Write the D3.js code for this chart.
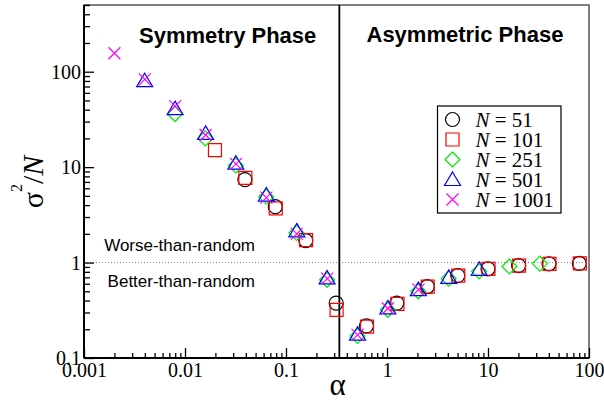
<!DOCTYPE html>
<html>
<head>
<meta charset="utf-8" />
<title>sigma^2/N vs alpha</title>
<style>
body { margin: 0; background: #fff; }
svg { display: block; }
.serif { font-family: "Liberation Serif", "Times New Roman", serif; }
.sans { font-family: "Liberation Sans", Arial, sans-serif; }
</style>
</head>
<body>
<div id="graph"></div>
<script src="https://d3js.org/d3.v7.min.js"></script>
<script>

// values (alpha, sigma^2/N) for each N
var alpha51 = [0.0392, 0.0784, 0.157, 0.314, 0.627, 1.25, 2.51, 5.02, 10.0, 20.1, 40.2, 80.3];
var sig51   = [7.4, 3.85, 1.70, 0.376, 0.217, 0.376, 0.56, 0.73, 0.86, 0.93, 0.97, 0.98];

var alpha101 = [0.0198, 0.0396, 0.0792, 0.158, 0.317, 0.634, 1.27, 2.53, 5.07, 10.1, 20.3, 40.6, 81.1];
var sig101   = [15.1, 7.7, 3.7, 1.72, 0.32, 0.213, 0.37, 0.56, 0.73, 0.86, 0.93, 0.97, 0.98];

var alpha251 = [0.00797, 0.0159, 0.0319, 0.0637, 0.127, 0.255, 0.510, 1.02, 2.04, 4.08, 8.16, 16.3, 32.6];
var sig251   = [36, 20, 10.4, 4.9, 2.05, 0.66, 0.17, 0.32, 0.50, 0.68, 0.81, 0.91, 0.975];

var alpha501 = [0.00399, 0.00798, 0.0160, 0.0319, 0.0639, 0.128, 0.255, 0.511, 1.02, 2.04, 4.09, 8.18];
var sig501   = [80.5, 41, 22.6, 11, 5.1, 2.15, 0.69, 0.178, 0.335, 0.52, 0.70, 0.85];

var alpha1001 = [0.002, 0.004, 0.008, 0.016, 0.032, 0.0639, 0.128, 0.256, 0.511, 1.02, 2.05];
var sig1001   = [156, 83, 43.6, 21.7, 10.8, 4.8, 2.0, 0.68, 0.175, 0.33, 0.52];

var seriesNames  = ["51", "101", "251", "501", "1001"];
var seriesColors = ["#000000", "#ff0000", "#00ee00", "#0000ff", "#ff00ff"];
var seriesShapes = ["circle", "square", "diamond", "triangle", "cross"];

var xMajor = [0.001, 0.01, 0.1, 1, 10, 100];
var xLabels = ["0.001", "0.01", "0.1", "1", "10", "100"];
var yMajor = [0.1, 1, 10, 100];
var yLabels = ["0.1", "1", "10", "100"];
var alphaCrit = 0.3374;

var width = 604, height = 401;
var plotLeft = 84, plotRight = 589, plotTop = 5, plotBottom = 358;

var svg = d3.select("#graph").append("svg")
    .attr("width", width)
    .attr("height", height);

var x = d3.scaleLog().domain([0.001, 100]).range([plotLeft, plotRight]);
var y = d3.scaleLog().domain([0.1, 500]).range([plotBottom, plotTop]);

// minor ticks 2..9 per decade
function minors(lo, hi) {
    var out = [];
    for (var d = lo; d < hi * 0.999; d *= 10)
        for (var k = 2; k <= 9; k++)
            if (d * k <= hi * 1.001) out.push(d * k);
    return out;
}

// frame
svg.append("rect")
    .attr("x", plotLeft).attr("y", plotTop)
    .attr("width", plotRight - plotLeft).attr("height", plotBottom - plotTop)
    .attr("fill", "none")
    .attr("stroke", "#555")
    .attr("stroke-width", 1.5);

// dotted line at 1
svg.append("line")
    .attr("x1", plotLeft).attr("x2", plotRight)
    .attr("y1", y(1)).attr("y2", y(1))
    .attr("stroke", "#888")
    .attr("stroke-width", 1)
    .attr("stroke-dasharray", "1,2");

// critical alpha
svg.append("line")
    .attr("x1", x(alphaCrit)).attr("x2", x(alphaCrit))
    .attr("y1", plotTop).attr("y2", plotBottom)
    .attr("stroke", "#000")
    .attr("stroke-width", 1.8);

// axes
var xAxisMinor = d3.axisBottom(x).tickValues(minors(0.001, 100)).tickSize(-5).tickFormat("");
var xAxis = d3.axisBottom(x).tickValues(xMajor).tickSize(-10)
    .tickFormat(function(d, i) { return xLabels[i]; });
var yAxisMinor = d3.axisLeft(y).tickValues(minors(0.1, 500)).tickSize(-6).tickFormat("");
var yAxis = d3.axisLeft(y).tickValues(yMajor).tickSize(-10)
    .tickFormat(function(d, i) { return yLabels[i]; });

function styleAxis(g) {
    g.attr("font-family", null).attr("font-size", null);
    g.select(".domain").remove();
    g.selectAll(".tick line").attr("stroke", "#000").attr("stroke-width", 1.3);
    g.selectAll("text")
        .attr("class", "serif")
        .style("font-size", "20px")
        .attr("fill", "#000");
}

svg.append("g").attr("transform", "translate(0," + plotBottom + ")").call(xAxisMinor).call(styleAxis);
svg.append("g").attr("transform", "translate(0," + plotBottom + ")").call(xAxis).call(styleAxis)
    .selectAll("text").attr("y", 19).attr("dy", null);
svg.append("g").attr("transform", "translate(" + plotLeft + ",0)").call(yAxisMinor).call(styleAxis);
svg.append("g").attr("transform", "translate(" + plotLeft + ",0)").call(yAxis).call(styleAxis)
    .selectAll("text").attr("x", -3).attr("dy", "0.33em");

// left and bottom axis lines
svg.append("line").attr("x1", plotLeft).attr("x2", plotLeft).attr("y1", plotTop).attr("y2", plotBottom)
    .attr("stroke", "#000").attr("stroke-width", 2);
svg.append("line").attr("x1", plotLeft).attr("x2", plotRight).attr("y1", plotBottom).attr("y2", plotBottom)
    .attr("stroke", "#000").attr("stroke-width", 2);

// marker paths
function shapePath(type) {
    if (type == "circle") return "M7,0A7,7 0 1,1 -7,0A7,7 0 1,1 7,0Z";
    if (type == "square") return "M-6.5,-6.5H6.5V6.5H-6.5Z";
    if (type == "diamond") return "M0,-7.5L7.5,0L0,7.5L-7.5,0Z";
    if (type == "triangle") return "M0,-7.5L8,6L-8,6Z";
    return "M-6,-6L6,6M-6,6L6,-6";
}

var allAlpha = [alpha51, alpha101, alpha251, alpha501, alpha1001];
var allSig = [sig51, sig101, sig251, sig501, sig1001];

allAlpha.forEach(function(al, s) {
    var pts = al.map(function(a, i) { return { a: a, v: allSig[s][i] }; });
    svg.append("g").selectAll("path")
        .data(pts)
        .enter().append("path")
        .attr("d", shapePath(seriesShapes[s]))
        .attr("transform", function(d) { return "translate(" + x(d.a) + "," + y(d.v) + ")"; })
        .attr("fill", "none")
        .attr("stroke", seriesColors[s])
        .attr("stroke-width", 1.2);
});

// phase labels
svg.append("text").attr("class", "sans")
    .attr("x", 139).attr("y", 43)
    .style("font-size", "22px").style("font-weight", "bold")
    .text("Symmetry Phase");
svg.append("text").attr("class", "sans")
    .attr("x", 366.5).attr("y", 42)
    .style("font-size", "22px").style("font-weight", "bold")
    .text("Asymmetric Phase");

svg.append("text").attr("class", "sans")
    .attr("x", 255).attr("y", 250.5)
    .attr("text-anchor", "end")
    .style("font-size", "17px")
    .text("Worse-than-random");
svg.append("text").attr("class", "sans")
    .attr("x", 255).attr("y", 286.5)
    .attr("text-anchor", "end")
    .style("font-size", "17px")
    .text("Better-than-random");

// axis titles
svg.append("text").attr("class", "serif")
    .attr("x", 337.5).attr("y", 395)
    .attr("text-anchor", "middle")
    .style("font-size", "31px")
    .text("α");

var yt = svg.append("text").attr("class", "serif")
    .attr("transform", "translate(43,182) rotate(-90)")
    .attr("text-anchor", "middle")
    .style("font-size", "30px");
yt.append("tspan").text("σ");
yt.append("tspan").attr("dy", -21).style("font-size", "16px").text("2");
yt.append("tspan").attr("dy", 21).text("/");
yt.append("tspan").style("font-style", "italic").text("N");

// legend
var legend = svg.append("g");
legend.append("rect")
    .attr("x", 437.5).attr("y", 106)
    .attr("width", 123.5).attr("height", 107)
    .attr("fill", "#fff")
    .attr("stroke", "#000")
    .attr("stroke-width", 1.2);

var rows = legend.selectAll(".key")
    .data(seriesNames)
    .enter().append("g")
    .attr("class", "key")
    .attr("transform", function(d, i) { return "translate(0," + (119.5 + i * 20) + ")"; });

rows.append("path")
    .attr("d", function(d, i) { return shapePath(seriesShapes[i]); })
    .attr("transform", "translate(452.5,0)")
    .attr("fill", "none")
    .attr("stroke", function(d, i) { return seriesColors[i]; })
    .attr("stroke-width", 1.2);

var lt = rows.append("text").attr("class", "serif")
    .attr("x", 475.5).attr("y", 7.3)
    .style("font-size", "21px");
lt.append("tspan").style("font-style", "italic").text("N");
lt.append("tspan").text(function(d) { return " = " + d; });

</script>
</body>
</html>
